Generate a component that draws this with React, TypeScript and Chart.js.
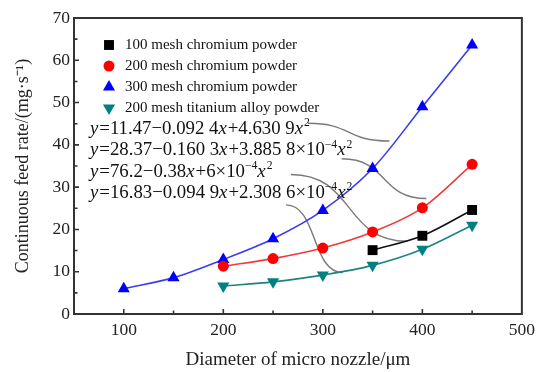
import React, { useEffect, useRef } from 'react';
import { Chart, registerables } from 'chart.js';

Chart.register(...registerables);

const FONT = "'Liberation Serif', 'Times New Roman', serif";

// ---- data ----
const seriesNames = [
  '100 mesh chromium powder',
  '200 mesh chromium powder',
  '300 mesh chromium powder',
  '200 mesh titanium alloy powder',
];
const nozzle100 = [350, 400, 450];
const rate100 = [15.1, 18.5, 24.6];
const nozzle200 = [200, 250, 300, 350, 400, 450];
const rate200 = [11.3, 13.1, 15.6, 19.4, 25.1, 35.4];
const nozzle300 = [100, 150, 200, 250, 300, 350, 400, 450];
const rate300 = [6.0, 8.6, 12.9, 17.8, 24.5, 34.4, 49.0, 63.6];
const nozzleTi = [200, 250, 300, 350, 400, 450];
const rateTi = [6.6, 7.6, 9.2, 11.5, 15.3, 21.0];

const xTickValues = [100, 200, 300, 400, 500];
const yTickValues = [0, 10, 20, 30, 40, 50, 60, 70];

const xTitle = 'Diameter of micro nozzle/\u03bcm';
const yTitle = 'Continuous feed rate/(mg\u00b7s\u207b\u00b9)';

type Seg = { t: string; it?: boolean; sup?: boolean };
const equation1: Seg[] = [
  { t: 'y', it: true }, { t: '=11.47\u22120.092 4' }, { t: 'x', it: true },
  { t: '+4.630 9' }, { t: 'x', it: true }, { t: '2', sup: true },
];
const equation2: Seg[] = [
  { t: 'y', it: true }, { t: '=28.37\u22120.160 3' }, { t: 'x', it: true },
  { t: '+3.885 8\u00d710' }, { t: '\u22124', sup: true }, { t: 'x', it: true }, { t: '2', sup: true },
];
const equation3: Seg[] = [
  { t: 'y', it: true }, { t: '=76.2\u22120.38' }, { t: 'x', it: true },
  { t: '+6\u00d710' }, { t: '\u22124', sup: true }, { t: 'x', it: true }, { t: '2', sup: true },
];
const equation4: Seg[] = [
  { t: 'y', it: true }, { t: '=16.83\u22120.094 9' }, { t: 'x', it: true },
  { t: '+2.308 6\u00d710' }, { t: '\u22124', sup: true }, { t: 'x', it: true }, { t: '2', sup: true },
];
const equations = [equation1, equation2, equation3, equation4];

// leader lines (data coordinates): [startX, startY, endX, endY]
const leader1 = [285, 45.1, 367, 40.9];
const leader2 = [319, 36.7, 404, 27.3];
const leader3 = [268, 33.0, 385, 17.2];
const leader4 = [263, 25.8, 320, 9.8];
const leaders = [leader1, leader2, leader3, leader4];

const colors = ['#000000', '#ff0000', '#0000ff', '#008080'];
const lineColors = ['#111111', '#f03c3c', '#3c3cf0', '#1e8282'];
const pointStyles = ['rect', 'circle', 'triangle', 'triangle'];
const pointRadii = [7, 5.5, 7, 7];
const pointRotations = [0, 0, 0, 180];

function toPts(xs: number[], ys: number[]) {
  return xs.map((x, i) => ({ x, y: ys[i] }));
}

function drawMarker(ctx: CanvasRenderingContext2D, style: string, x: number, y: number, r: number, rot: number, color: string) {
  ctx.save();
  ctx.fillStyle = color;
  ctx.beginPath();
  if (style === 'rect') {
    const s = Math.SQRT1_2 * r;
    ctx.rect(x - s, y - s, 2 * s, 2 * s);
  } else if (style === 'circle') {
    ctx.arc(x, y, r, 0, Math.PI * 2);
  } else {
    const d = rot === 180 ? -1 : 1;
    ctx.moveTo(x, y - d * r);
    ctx.lineTo(x + r * Math.sin(Math.PI / 3), y + d * r / 2);
    ctx.lineTo(x - r * Math.sin(Math.PI / 3), y + d * r / 2);
    ctx.closePath();
  }
  ctx.fill();
  ctx.restore();
}

function drawRich(ctx: CanvasRenderingContext2D, x: number, y: number, segs: Seg[], size: number) {
  let cx = x;
  for (const s of segs) {
    const fs = s.sup ? size * 0.62 : size;
    ctx.font = `${s.it ? 'italic ' : ''}${fs}px ${FONT}`;
    const dy = s.sup ? -size * 0.4 : 0;
    ctx.fillText(s.t, cx, y + dy);
    cx += ctx.measureText(s.t).width + (s.it ? 1 : 0);
  }
}

const decorPlugin = {
  id: 'decor',
  beforeDatasetsDraw(chart: any) {
    const { ctx, scales } = chart;
    const xs = scales.x, ys = scales.y;
    ctx.save();
    ctx.strokeStyle = '#7a7a7a';
    ctx.lineWidth = 1.4;
    for (const l of leaders) {
      const sx = xs.getPixelForValue(l[0]), sy = ys.getPixelForValue(l[1]);
      const ex = xs.getPixelForValue(l[2]), ey = ys.getPixelForValue(l[3]);
      const k = (ex - sx) * 0.55;
      ctx.beginPath();
      ctx.moveTo(sx, sy);
      ctx.bezierCurveTo(sx + k, sy, ex - k, ey, ex, ey);
      ctx.stroke();
    }
    ctx.restore();
  },
  afterDraw(chart: any) {
    const { ctx, chartArea: a, scales } = chart;
    const xs = scales.x, ys = scales.y;
    ctx.save();
    // frame
    ctx.strokeStyle = '#333333';
    ctx.lineWidth = 2;
    ctx.strokeRect(a.left, a.top, a.right - a.left, a.bottom - a.top);
    // inward ticks
    ctx.lineWidth = 1.6;
    ctx.beginPath();
    for (let v = 100; v <= 450; v += 50) {
      const px = xs.getPixelForValue(v);
      const len = v % 100 === 0 ? 5 : 3.5;
      ctx.moveTo(px, a.bottom);
      ctx.lineTo(px, a.bottom - len);
    }
    for (let v = 5; v < 70; v += 5) {
      const py = ys.getPixelForValue(v);
      const len = v % 10 === 0 ? 5 : 3.5;
      ctx.moveTo(a.left, py);
      ctx.lineTo(a.left + len, py);
    }
    ctx.stroke();

    // legend
    ctx.textBaseline = 'middle';
    ctx.textAlign = 'left';
    for (let i = 0; i < seriesNames.length; i++) {
      const y = a.top + 27 + i * 21;
      const mx = a.left + 35;
      drawMarker(ctx, pointStyles[i], mx, y, pointRadii[i], pointRotations[i], colors[i]);
      ctx.fillStyle = '#111';
      ctx.font = `15px ${FONT}`;
      ctx.fillText(seriesNames[i], a.left + 51, y);
    }

    // equations
    ctx.textBaseline = 'alphabetic';
    ctx.fillStyle = '#111';
    for (let i = 0; i < equations.length; i++) {
      drawRich(ctx, a.left + 16, a.top + 116 + i * 21.3, equations[i], 18.8);
    }
    ctx.restore();
  },
};

export default function App() {
  const ref = useRef<HTMLCanvasElement>(null);
  useEffect(() => {
    if (!ref.current) return;
    const xsets = [nozzle100, nozzle200, nozzle300, nozzleTi];
    const ysets = [rate100, rate200, rate300, rateTi];
    const chart = new Chart(ref.current, {
      type: 'line',
      data: {
        datasets: seriesNames.map((name, i) => ({
          label: name,
          data: toPts(xsets[i], ysets[i]),
          borderColor: lineColors[i],
          backgroundColor: colors[i],
          pointBackgroundColor: colors[i],
          pointBorderColor: colors[i],
          pointBorderWidth: 0,
          pointStyle: pointStyles[i] as any,
          pointRadius: pointRadii[i],
          pointRotation: pointRotations[i],
          borderWidth: 1.6,
          cubicInterpolationMode: 'monotone',
          fill: false,
        })),
      },
      options: {
        animation: false,
        responsive: true,
        maintainAspectRatio: false,
        layout: { padding: { left: 0, right: 19, top: 18, bottom: 0 } },
        plugins: {
          legend: { display: false },
          tooltip: { enabled: false },
        },
        scales: {
          x: {
            type: 'linear',
            min: 50,
            max: 500,
            afterBuildTicks: (s: any) => { s.ticks = xTickValues.map((v) => ({ value: v })); },
            afterFit: (s: any) => { s.height = 58; },
            grid: { display: false, drawTicks: false },
            border: { display: false },
            ticks: { font: { family: FONT, size: 17.5 }, color: '#222', padding: 6, maxRotation: 0 },
            title: {
              display: true,
              text: xTitle,
              font: { family: FONT, size: 19 },
              color: '#222',
              padding: { top: 0, bottom: 1 },
            },
          },
          y: {
            type: 'linear',
            min: 0,
            max: 70,
            afterBuildTicks: (s: any) => { s.ticks = yTickValues.map((v) => ({ value: v })); },
            afterFit: (s: any) => { s.width = 74; },
            grid: { display: false, drawTicks: false },
            border: { display: false },
            ticks: { font: { family: FONT, size: 17.5 }, color: '#222', padding: 4 },
            title: {
              display: true,
              text: yTitle,
              font: { family: FONT, size: 18 },
              color: '#222',
              padding: { top: 12, bottom: 0 },
            },
          },
        },
      },
      plugins: [decorPlugin],
    } as any);
    return () => chart.destroy();
  }, []);
  return (
    <div style={{ position: 'absolute', left: 0, top: 0, width: 541, height: 372, background: '#fff' }}>
      <canvas ref={ref} />
    </div>
  );
}
